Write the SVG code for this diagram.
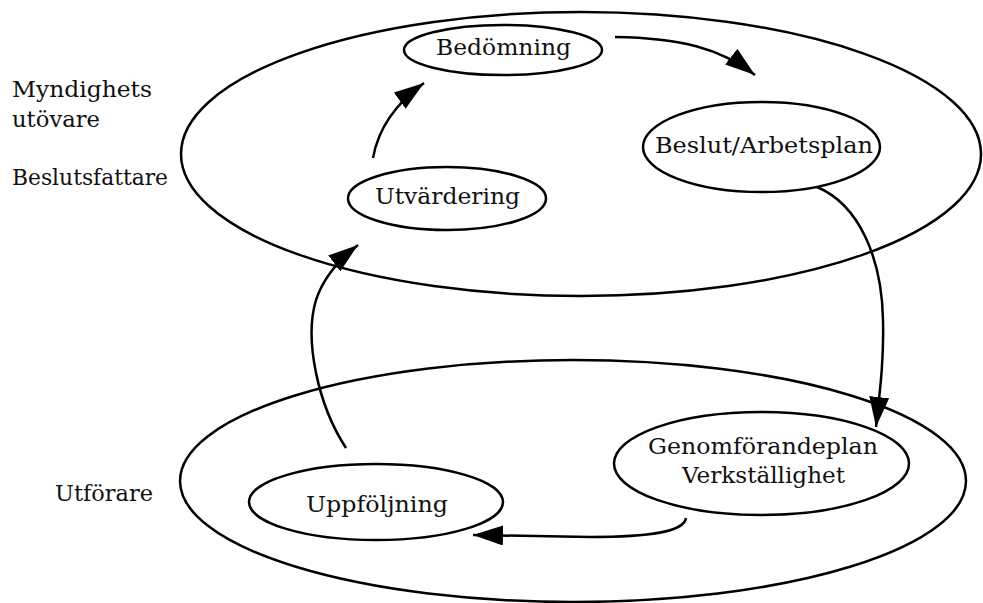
<svg xmlns="http://www.w3.org/2000/svg" width="983" height="603" viewBox="0 0 983 603">
<style>
.sh{fill:none;stroke:#000;stroke-width:2.5}
.nd{fill:#fff;stroke:#000;stroke-width:2.5}
.tx{font-family:"DejaVu Serif","Liberation Serif",serif;font-size:23px;fill:#111}
.cn{fill:none;stroke:#000;stroke-width:2.5}
</style>
<defs>
<marker id="ah" markerUnits="userSpaceOnUse" markerWidth="34" markerHeight="22" refX="30" refY="10" orient="auto">
<path d="M0,0 L30,10 L0,20 Z" fill="#000"/>
</marker>
</defs>
<rect width="983" height="603" fill="#fff"/>
<g id="zone-top"><ellipse class="sh" cx="581" cy="154" rx="400" ry="142"/></g>
<g id="zone-bottom"><ellipse class="sh" cx="573" cy="481" rx="393" ry="121"/></g>
<g id="labels">
<text class="tx" x="12" y="97" textLength="140" lengthAdjust="spacingAndGlyphs">Myndighets</text>
<text class="tx" x="12" y="127" textLength="88" lengthAdjust="spacingAndGlyphs">utövare</text>
<text class="tx" x="12" y="185" textLength="156" lengthAdjust="spacingAndGlyphs">Beslutsfattare</text>
<text class="tx" x="55" y="501" textLength="98" lengthAdjust="spacingAndGlyphs">Utförare</text>
</g>
<g id="connectors">
<path class="cn" d="M615,37 C680,38 720,48 755,75" marker-end="url(#ah)"/>
<path class="cn" d="M817,187 C860,205 882,260 883,320 C884,360 880,390 876,427" marker-end="url(#ah)"/>
<path class="cn" d="M686,518 C684,532 650,537 590,537 L473,535" marker-end="url(#ah)"/>
<path class="cn" d="M346,448 C318,405 304,340 316,300 C322,282 336,262 358,245" marker-end="url(#ah)"/>
<path class="cn" d="M373,158 C378,130 395,104 424,83" marker-end="url(#ah)"/>
</g>
<g id="bedomning"><ellipse class="nd" cx="503" cy="50" rx="99" ry="25"/><text class="tx" x="436" y="55" textLength="135" lengthAdjust="spacingAndGlyphs">Bedömning</text></g>
<g id="beslut"><ellipse class="nd" cx="761.5" cy="147" rx="118.5" ry="45"/><text class="tx" x="655" y="153" textLength="218" lengthAdjust="spacingAndGlyphs">Beslut/Arbetsplan</text></g>
<g id="utvardering"><ellipse class="nd" cx="447" cy="198.5" rx="99" ry="31.5"/><text class="tx" x="375" y="204" textLength="145" lengthAdjust="spacingAndGlyphs">Utvärdering</text></g>
<g id="genomforande"><ellipse class="nd" cx="761.5" cy="463.5" rx="147.5" ry="51.5"/><text class="tx" x="648" y="454" textLength="230" lengthAdjust="spacingAndGlyphs">Genomförandeplan</text><text class="tx" x="682" y="483" textLength="163" lengthAdjust="spacingAndGlyphs">Verkställighet</text></g>
<g id="uppfoljning"><ellipse class="nd" cx="376" cy="502" rx="127" ry="38"/><text class="tx" x="306" y="512" textLength="142" lengthAdjust="spacingAndGlyphs">Uppföljning</text></g>
</svg>
